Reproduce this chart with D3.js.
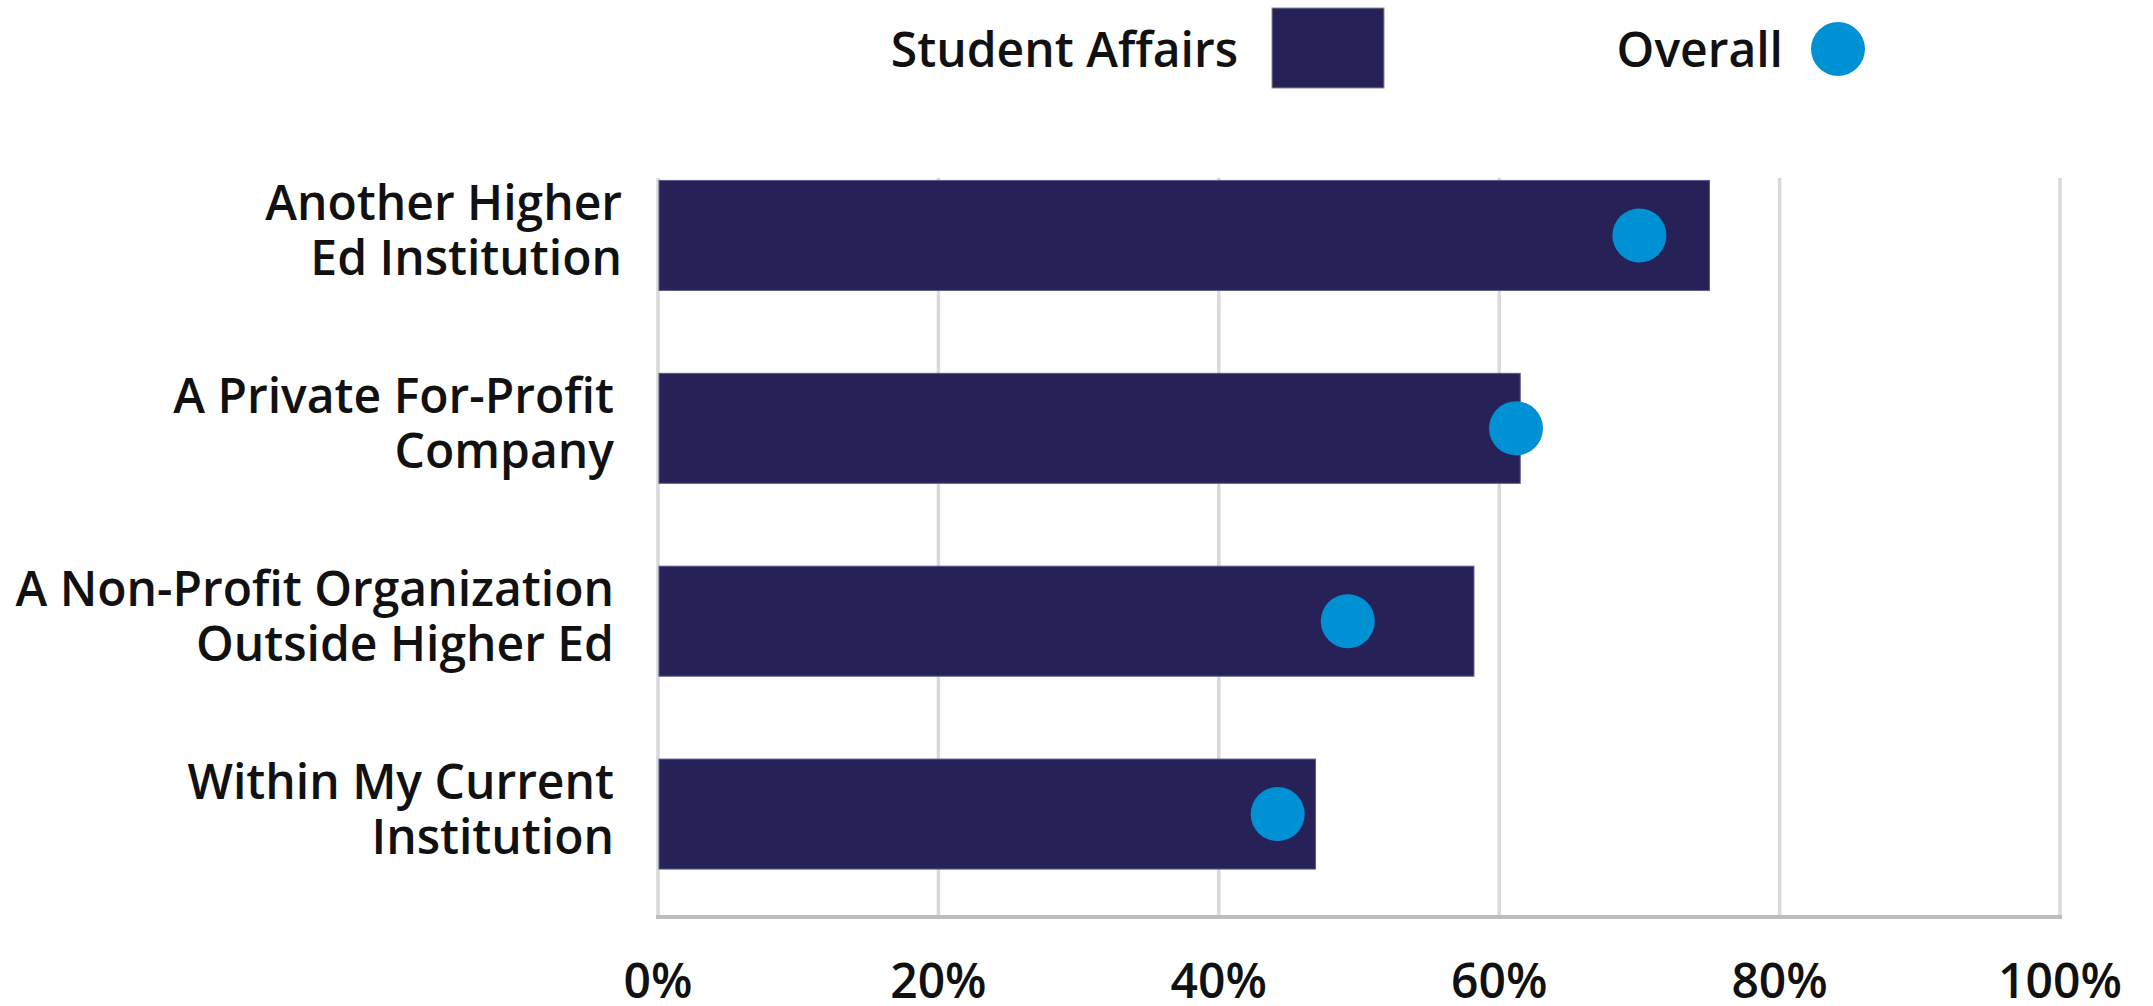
<!DOCTYPE html>
<html>
<head>
<meta charset="utf-8">
<script src="https://cdn.jsdelivr.net/npm/d3@7"></script>
<style>
  html, body { margin: 0; padding: 0; background: #ffffff; }
  svg { display: block; }
  text { font-family: "Open Sans", "Noto Sans", sans-serif; font-weight: 600; fill: #111111; }
</style>
</head>
<body>
<svg id="chart" width="2153" height="1006"></svg>
<script>
// ---- data ----
const categories = [
  ["Another Higher", "Ed Institution"],
  ["A Private For-Profit", "Company"],
  ["A Non-Profit Organization", "Outside Higher Ed"],
  ["Within My Current", "Institution"]
];
const studentAffairs = [75, 61.5, 58.2, 46.9];
const overall = [70, 61.2, 49.2, 44.2];
const tickValues = [0, 20, 40, 60, 80, 100];
const tickLabels = ["0%", "20%", "40%", "60%", "80%", "100%"];
const seriesNames = ["Student Affairs", "Overall"];

// ---- layout ----
const plot = { left: 658, right: 2060, top: 178, bottom: 917 };
const barColor = "#262258";
const dotColor = "#0091d5";

const svg = d3.select("#chart");

const x = d3.scaleLinear().domain([0, 100]).range([plot.left, plot.right]);
const keys = categories.map((c, i) => i);
const y = d3.scaleBand().domain(keys).range([139, 910.5]).paddingInner(0).paddingOuter(0);
const barH = 110;

// gridlines
svg.append("g").selectAll("line").data(tickValues).join("line")
  .attr("x1", d => x(d)).attr("x2", d => x(d))
  .attr("y1", plot.top).attr("y2", plot.bottom)
  .attr("stroke", "#d9d9d9").attr("stroke-width", 3.5);

// baseline
svg.append("line")
  .attr("x1", x(0) - 2).attr("x2", x(100) + 2)
  .attr("y1", plot.bottom).attr("y2", plot.bottom)
  .attr("stroke", "#bdbdbd").attr("stroke-width", 4);

// bars
svg.append("g").selectAll("rect").data(keys).join("rect")
  .attr("x", x(0) + 1)
  .attr("y", i => y(i) + y.bandwidth() / 2 - barH / 2)
  .attr("width", i => x(studentAffairs[i]) - x(0) - 1)
  .attr("height", barH)
  .attr("fill", barColor)
  .attr("stroke", "#5b5a8c").attr("stroke-width", 1);

// dots
svg.append("g").selectAll("circle").data(keys).join("circle")
  .attr("cx", i => x(overall[i]))
  .attr("cy", i => y(i) + y.bandwidth() / 2)
  .attr("r", 27)
  .attr("fill", dotColor);

// category labels
const labelG = svg.append("g");
keys.forEach(i => {
  const cy = y(i) + y.bandwidth() / 2;
  const t = labelG.append("text")
    .attr("text-anchor", "end")
    .attr("font-size", 48);
  categories[i].forEach((line, j) => {
    t.append("tspan")
      .attr("x", i === 0 ? 622 : 614)
      .attr("y", cy - 15 + j * 55)
      .text(line);
  });
});

// x tick labels
svg.append("g").selectAll("text").data(tickValues).join("text")
  .attr("x", d => x(d))
  .attr("y", 998)
  .attr("text-anchor", "middle")
  .attr("font-size", 48)
  .text((d, i) => tickLabels[i]);

// legend
const leg = svg.append("g");
leg.append("text").attr("x", 1238).attr("y", 67).attr("text-anchor", "end")
  .attr("font-size", 48).text(seriesNames[0]);
leg.append("rect").attr("x", 1272).attr("y", 8).attr("width", 112).attr("height", 80)
  .attr("fill", barColor).attr("stroke", "#8a8a8a").attr("stroke-width", 1);
leg.append("text").attr("x", 1783).attr("y", 67).attr("text-anchor", "end")
  .attr("font-size", 48).text(seriesNames[1]);
leg.append("circle").attr("cx", 1838).attr("cy", 49).attr("r", 27).attr("fill", dotColor);
</script>
</body>
</html>
